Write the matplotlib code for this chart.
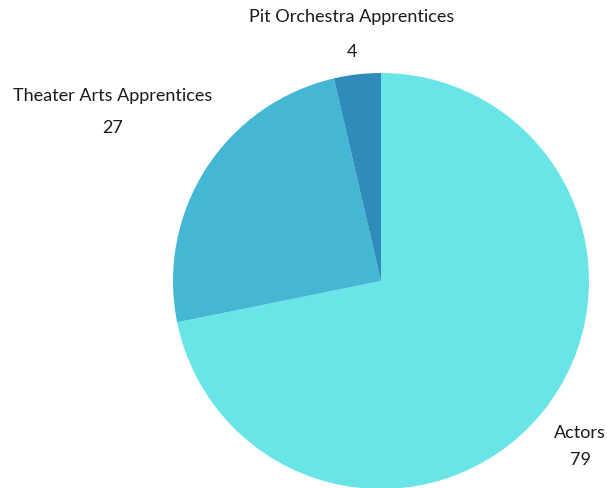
import matplotlib
matplotlib.use("Agg")
import matplotlib.pyplot as plt

plt.rcParams['font.family'] = ['Lato', 'DejaVu Sans']

labels = ['Actors', 'Theater Arts Apprentices', 'Pit Orchestra Apprentices']
values = [79, 27, 4]
colors = ['#69E5E8', '#44B7D4', '#2E8BBA']

# label anchor (x, y of name, y of value) in pie-radius units
label_pos = [(0.957, -0.73, -0.86), (-1.29, 0.89, 0.735), (-0.14, 1.27, 1.10)]

fig = plt.figure(figsize=(6.07, 4.88), dpi=100)
cx, cy, r = 381, 488 - 281, 208
ax = fig.add_axes([(cx - r) / 607, (cy - r) / 488, 2 * r / 607, 2 * r / 488])
ax.pie(values, colors=colors, startangle=90, counterclock=False, radius=1,
       wedgeprops=dict(linewidth=0))
ax.set_xlim(-1, 1)
ax.set_ylim(-1, 1)
ax.set_aspect('equal')
ax.axis('off')

for lab, v, (x, y1, y2) in zip(labels, values, label_pos):
    ax.text(x, y1, lab, ha='center', va='center', fontsize=13, color='#1a1a1a', clip_on=False)
    ax.text(x, y2, str(v), ha='center', va='center', fontsize=13, color='#1a1a1a', clip_on=False)

fig.savefig('out.png', dpi=100)
